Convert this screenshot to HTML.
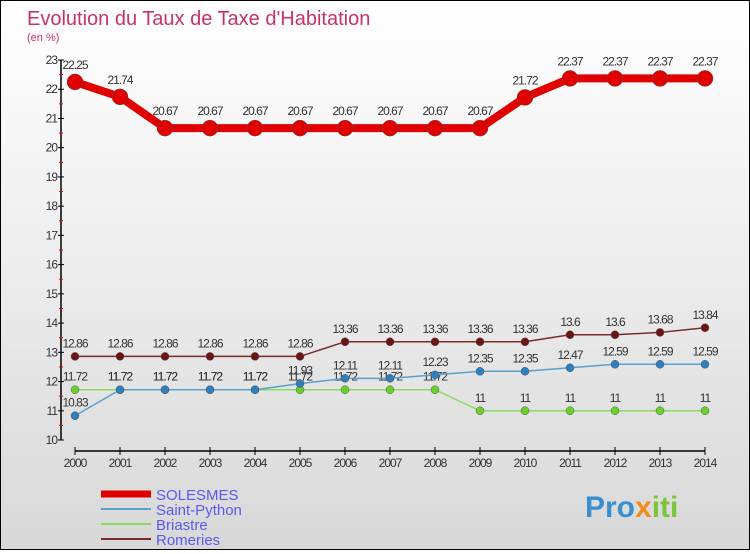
<!DOCTYPE html>
<html><head><meta charset="utf-8"><style>
html,body{margin:0;padding:0}
body{width:750px;height:550px;overflow:hidden}
#c{position:relative;width:748px;height:548px;border:1px solid #000;background:linear-gradient(#fff 0%,#f0f0f0 40%,#d8d8d8 100%);font-family:"Liberation Sans",sans-serif}
</style></head><body>
<div id="c">
<svg id="s" width="748" height="548" xmlns="http://www.w3.org/2000/svg">
<text x="26" y="24" font-size="20" fill="#c8326a">Evolution du Taux de Taxe d'Habitation</text>
<text x="26" y="40" font-size="11" fill="#c8326a">(en %)</text>
<g id="axes"></g><g id="series"></g><g id="legend"></g>
<text x="584" y="516" font-size="30" font-weight="bold"><tspan fill="#3a8fd0">Pro</tspan><tspan fill="#f08c1e">x</tspan><tspan fill="#7cc43c">iti</tspan></text>
</svg>
</div>
<script>
const years=[2000,2001,2002,2003,2004,2005,2006,2007,2008,2009,2010,2011,2012,2013,2014];
const yTicks=[10,11,12,13,14,15,16,17,18,19,20,21,22,23];
const solesmes=[22.25,21.74,20.67,20.67,20.67,20.67,20.67,20.67,20.67,20.67,21.72,22.37,22.37,22.37,22.37];
const saintPython=[10.83,11.72,11.72,11.72,11.72,11.93,12.11,12.11,12.23,12.35,12.35,12.47,12.59,12.59,12.59];
const briastre=[11.72,11.72,11.72,11.72,11.72,11.72,11.72,11.72,11.72,11.0,11.0,11.0,11.0,11.0,11.0];
const romeries=[12.86,12.86,12.86,12.86,12.86,12.86,13.36,13.36,13.36,13.36,13.36,13.6,13.6,13.68,13.84];
const NS="http://www.w3.org/2000/svg";
const xs=i=>74+i*45, ys=v=>439-(v-10)*29.23;
function mk(tag,attrs,parent,text){const e=document.createElementNS(NS,tag);for(const k in attrs)e.setAttribute(k,attrs[k]);if(text!==undefined)e.textContent=text;parent.appendChild(e);return e;}
const ax=document.getElementById('axes');
let a=mk('line',{x1:60,y1:ys(23),x2:60,y2:ys(10),stroke:'#000','stroke-width':1.5},ax);

yTicks.forEach(t=>{
 mk('line',{x1:57,y1:ys(t),x2:63,y2:ys(t),stroke:'#000'},ax);
 if(t<23)mk('line',{x1:58,y1:ys(t+0.5),x2:62,y2:ys(t+0.5),stroke:'#e00'},ax);
 const l=mk('text',{x:56,y:ys(t)+4,'font-size':12,fill:'#333','text-anchor':'end','letter-spacing':'-1'},ax,String(t));
 
});
a=mk('line',{x1:xs(0),y1:450,x2:xs(14),y2:450,stroke:'#000','stroke-width':1.5},ax);

years.forEach((y,i)=>{
 mk('line',{x1:xs(i),y1:446,x2:xs(i),y2:454,stroke:'#000'},ax);
 const l=mk('text',{x:xs(i),y:466,'font-size':12,fill:'#333','text-anchor':'middle','letter-spacing':'-1'},ax,String(y));
 
});
const sg=document.getElementById('series');
const defs=[
 {d:romeries,c:'#7a2a2a',dot:'#6b1414',w:1.5,r:4,name:'romeries'},
 {d:briastre,c:'#8cd860',dot:'#6cd02c',w:1.5,r:4,name:'briastre'},
 {d:saintPython,c:'#5a9fd0',dot:'#2e7fc0',w:1.5,r:4,name:'saint-python'},
 {d:solesmes,c:'#e00000',dot:'#e00000',w:8,r:8,name:'solesmes'}];
defs.forEach(s=>{
 const g=mk('g',{},sg);
 
 const p=mk('polyline',{points:s.d.map((v,i)=>xs(i)+','+ys(v)).join(' '),fill:'none',stroke:s.c,'stroke-width':s.w},g);
 
 s.d.forEach((v,i)=>{
  const c=mk('circle',{cx:xs(i),cy:ys(v),r:s.r,fill:s.dot,stroke:'#555','stroke-width':0.5},g);
  
  const t=mk('text',{x:xs(i),y:ys(v)-(s.r+5),'font-size':12,fill:'#333','text-anchor':'middle','letter-spacing':'-1'},g,String(v));
  
 });
});
const lg=document.getElementById('legend');
[['SOLESMES','#e00000',7],['Saint-Python','#5a9fd0',2],['Briastre','#8cd860',2],['Romeries','#7a2a2a',2]].forEach((e,i)=>{
 const y=493+i*15;
 const g=mk('g',{},lg);
 
 mk('line',{x1:100,y1:y,x2:150,y2:y,stroke:e[1],'stroke-width':e[2]},g);
 mk('text',{x:155,y:y+6,'font-size':15,fill:'#5a5af0'},g,e[0]);
});
</script>
</body></html>
